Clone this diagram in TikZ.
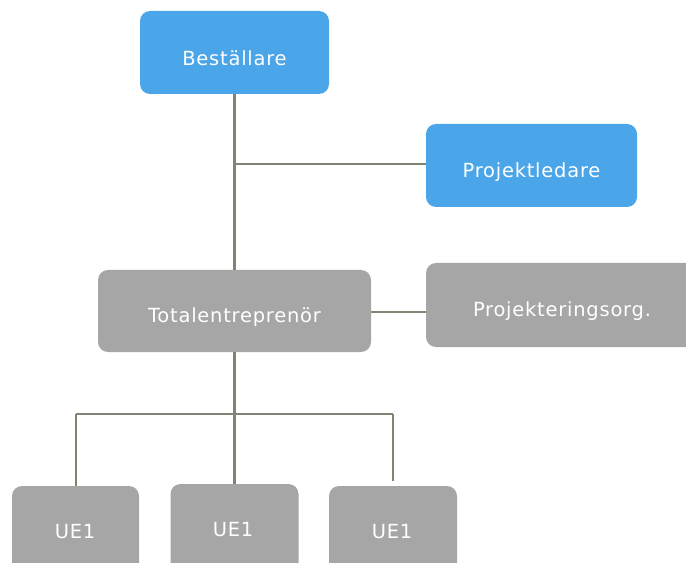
\documentclass[tikz,border=0pt]{standalone}
\usepackage{fontspec}
\setmainfont{DejaVu Sans}[LetterSpace=4]
\definecolor{boxblue}{HTML}{4AA6E9}
\definecolor{boxgray}{HTML}{A6A6A6}
\definecolor{linegray}{HTML}{838373}
\begin{document}
\begin{tikzpicture}[x=0.75pt,y=-0.75pt,
  boxb/.style={fill=boxblue,rounded corners=7.5pt,inner sep=0pt},
  boxg/.style={fill=boxgray,rounded corners=7.5pt,inner sep=0pt},
  txt/.style={text=white,font=\fontsize{14.6pt}{17pt}\selectfont,inner sep=0pt},
  conn/.style={draw=linegray,line width=1.8pt}]
\useasboundingbox (0,0) rectangle (686,563);
\clip (0,0) rectangle (686,563);
% boxes
\node[boxb,minimum width=189*0.75pt,minimum height=83*0.75pt] (best) at (234.5,52.5) {};
\node[boxb,minimum width=211*0.75pt,minimum height=83*0.75pt] (proj) at (531.5,165.5) {};
\node[boxg,minimum width=273*0.75pt,minimum height=82*0.75pt] (tot) at (234.5,311) {};
\node[boxg,minimum width=280*0.75pt,minimum height=84*0.75pt] (porg) at (566,305) {};
\node[boxg,minimum width=127*0.75pt,minimum height=100*0.75pt] (ue1) at (75.5,536) {};
\node[boxg,minimum width=128*0.75pt,minimum height=100*0.75pt] (ue2) at (234.5,534) {};
\node[boxg,minimum width=128*0.75pt,minimum height=100*0.75pt] (ue3) at (393,536) {};
% texts
\node[txt] (tbest) at (234.5,58) {Beställare};
\node[txt] (tproj) at (531.5,172) {Projektledare};
\node[txt] (ttot) at (234.5,317) {Totalentreprenör};
\node[txt] (tporg) at (562,311) {Projekteringsorg.};
\node[txt] (tue1) at (75,532) {UE1};
\node[txt] (tue2) at (233,530) {UE1};
\node[txt] (tue3) at (392,532) {UE1};
% connectors
\coordinate (j1) at (234.5,164);
\coordinate (jl) at (76,414);
\coordinate (jr) at (393,414);
\coordinate (er) at (393,481);
\draw[conn] (best.south) -- (tot.north);
\draw[conn] (j1) -- (j1 -| proj.west);
\draw[conn] (tot.east) ++(0,1) -- (porg.west |- 0,312);
\draw[conn] (tot.south) -- (ue2.north);
\draw[conn] (jl) -- (jr);
\draw[conn] (jl) -- (ue1.north -| jl);
\draw[conn] (jr) -- (er);
\end{tikzpicture}
\end{document}
